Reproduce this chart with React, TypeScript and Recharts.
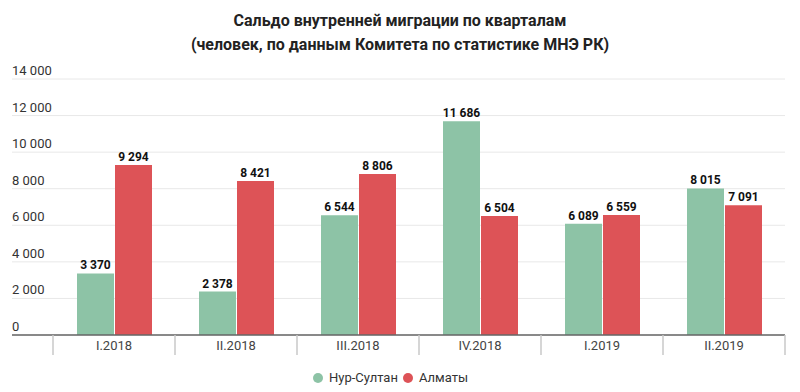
import { BarChart, Bar, XAxis, YAxis, CartesianGrid, LabelList, Legend } from 'recharts';

const quarters = ['I.2018', 'II.2018', 'III.2018', 'IV.2018', 'I.2019', 'II.2019'];
const nurSultan = [3370, 2378, 6544, 11686, 6089, 8015];
const almaty = [9294, 8421, 8806, 6504, 6559, 7091];
const yTicks = [0, 2000, 4000, 6000, 8000, 10000, 12000, 14000];

const GREEN = '#8dc3a6';
const RED = '#dd5357';

const W = 800;
const H = 392;
const M = { top: 79, right: 15, left: 11, bottom: 0 };
const PAD_LEFT = 41;
const BAND = (W - M.left - 1 - M.right - PAD_LEFT) / quarters.length;

const data = quarters.map((q, i) => ({ q, nur: nurSultan[i], alm: almaty[i] }));

const fmt = (v: number) => String(v).replace(/\B(?=(\d{3})+(?!\d))/g, ' ');

function YTick({ y, payload }: any) {
  return (
    <text x={12} y={y - 4} fontSize={13} fill="#333" fontFamily="Roboto">
      {fmt(payload.value)}
    </text>
  );
}

function XTick({ x, y, payload, index }: any) {
  const left = x - BAND / 2;
  const right = x + BAND / 2;
  return (
    <g>
      <line x1={left} x2={left} y1={y} y2={y + 20} stroke="#c8c8c8" strokeWidth={1.5} />
      {index === quarters.length - 1 && (
        <line x1={right} x2={right} y1={y} y2={y + 20} stroke="#c8c8c8" strokeWidth={1.5} />
      )}
      <text x={x} y={y + 15} textAnchor="middle" fontSize={13} fill="#444" fontFamily="Roboto">
        {payload.value}
      </text>
    </g>
  );
}

function ValueLabel({ x, y, width, value }: any) {
  return (
    <text x={x + width / 2} y={y - 4} textAnchor="middle" fill="#111" fontSize={12} fontWeight="bold" fontFamily="Roboto">
      {fmt(value)}
    </text>
  );
}

function LegendContent() {
  const items = [
    { name: 'Нур-Султан', color: GREEN },
    { name: 'Алматы', color: RED },
  ];
  return (
    <div style={{ display: 'flex', justifyContent: 'center', fontFamily: 'Roboto', fontSize: 13, color: '#333', paddingTop: 8, paddingRight: 10 }}>
      {items.map((it) => (
        <div key={it.name} style={{ display: 'flex', alignItems: 'center', marginRight: 5 }}>
          <span style={{ width: 10, height: 10, borderRadius: 5, background: it.color, marginRight: 6, display: 'inline-block' }} />
          <span>{it.name}</span>
        </div>
      ))}
    </div>
  );
}

export default function App() {
  return (
    <div style={{ position: 'absolute', left: 0, top: 0, width: W, height: H, background: '#fff' }}>
      <div style={{ position: 'absolute', left: 0, top: 9, width: W, textAlign: 'center', fontFamily: 'Roboto', fontWeight: 'bold', fontSize: 16, lineHeight: '24px', color: '#222' }}>
        <div>Сальдо внутренней миграции по кварталам</div>
        <div>(человек, по данным Комитета по статистике МНЭ РК)</div>
      </div>
      <div style={{ position: 'absolute', left: 0, top: 0 }}>
        <BarChart width={W} height={H} data={data} margin={M} barSize={37} barGap={1}>
          <CartesianGrid vertical={false} stroke="#e8e8e8" />
          <XAxis
            dataKey="q"
            height={27}
            padding={{ left: PAD_LEFT, right: 0 }}
            axisLine={{ stroke: '#666', strokeWidth: 1.5 }}
            tickLine={false}
            tickSize={0}
            tickMargin={0}
            tick={<XTick />}
            interval={0}
          />
          <YAxis
            width={1}
            domain={[0, 14000]}
            ticks={yTicks}
            axisLine={false}
            tickLine={false}
            tick={<YTick />}
            interval={0}
          />
          <Legend verticalAlign="bottom" height={30} content={<LegendContent />} />
          <Bar dataKey="nur" name="Нур-Султан" fill={GREEN} isAnimationActive={false}>
            <LabelList dataKey="nur" content={<ValueLabel />} />
          </Bar>
          <Bar dataKey="alm" name="Алматы" fill={RED} isAnimationActive={false}>
            <LabelList dataKey="alm" content={<ValueLabel />} />
          </Bar>
        </BarChart>
      </div>
    </div>
  );
}
